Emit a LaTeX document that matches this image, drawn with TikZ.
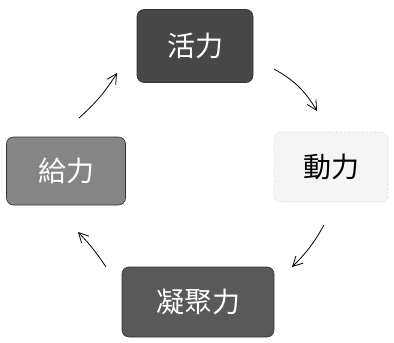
\documentclass[tikz,border=0pt]{standalone}
\usepackage{fontspec}
\newfontfamily\cjk{Noto Sans CJK TC}
\usetikzlibrary{arrows.meta}
\tikzset{
  box/.style={rounded corners=7pt, draw=black!80, line width=0.6pt, inner sep=0pt,
    font=\cjk\fontsize{28}{30}\selectfont},
  darkbox/.style={box, fill=black!72, text=white},
  midbox/.style={box, fill=black!48, text=white},
  lightbox/.style={box, draw=black!25, dotted, fill=black!4, text=black},
  cyc/.style={line width=0.8pt, -{Straight Barb[angle=55:11pt]}}
}
\begin{document}
\begin{tikzpicture}[x=1pt,y=-1pt]
\useasboundingbox (0,0) rectangle (394,343);
\node[darkbox, minimum width=116pt, minimum height=73pt] (huo) at (195,46) {活力};
\node[lightbox, minimum width=114pt, minimum height=70pt] (dong) at (331,167) {動力};
\node[midbox, minimum width=119pt, minimum height=68pt] (gei) at (66,171) {給力};
\node[darkbox, fill=black!65, minimum width=152pt, minimum height=70pt] (ning) at (198,302) {凝聚力};
\coordinate (a1s) at (79,118);  \coordinate (a1e) at (117,73);
\coordinate (a2s) at (274,69);  \coordinate (a2e) at (317,111);
\coordinate (a3s) at (324,225); \coordinate (a3e) at (292,267);
\coordinate (a4s) at (106,267); \coordinate (a4e) at (78,232);
\draw[cyc] (a1s) to[bend right=8] (a1e);
\draw[cyc] (a2s) to[bend left=15] (a2e);
\draw[cyc] (a3s) to[bend left=8] (a3e);
\draw[cyc] (a4s) to[bend right=5] (a4e);
\end{tikzpicture}
\end{document}
